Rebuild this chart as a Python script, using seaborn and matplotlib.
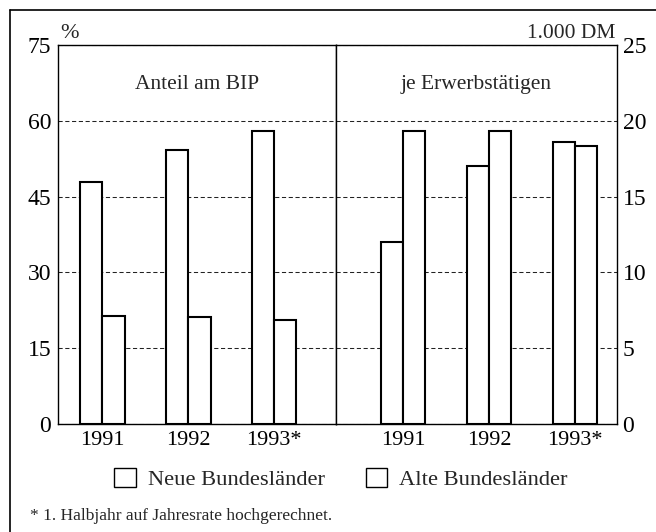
import matplotlib
matplotlib.use("Agg")
import matplotlib.pyplot as plt
import seaborn as sns
import pandas as pd
from matplotlib.patches import Patch
from matplotlib.lines import Line2D

# ---- data ----
years = ["1991", "1992", "1993*"]
regions = ["Neue Bundesländer", "Alte Bundesländer"]
bip_neue = [47.9, 54.3, 57.9]      # Anteil am BIP, %
bip_alte = [21.4, 21.2, 20.6]
erw_neue = [12.0, 17.0, 18.6]      # je Erwerbstätigen, 1.000 DM
erw_alte = [19.35, 19.3, 18.35]
left_ticks = [0, 15, 30, 45, 60, 75]
right_ticks = [0, 5, 10, 15, 20, 25]

df_left = pd.DataFrame({
    "Jahr": years * 2,
    "Region": [regions[0]] * 3 + [regions[1]] * 3,
    "Wert": bip_neue + bip_alte,
})
df_right = pd.DataFrame({
    "Jahr": years * 2,
    "Region": [regions[0]] * 3 + [regions[1]] * 3,
    "Wert": erw_neue + erw_alte,
})

sns.set_theme(style="white")
plt.rcParams["font.family"] = ["Liberation Serif", "DejaVu Serif"]
FS = 16

W, H = 656, 532
fig = plt.figure(figsize=(W / 100, H / 100), dpi=100)
bottom = 1 - 424 / H
height = 379 / H
axL = fig.add_axes([58 / W, bottom, (336 - 58) / W, height])
axR = fig.add_axes([336 / W, bottom, (617 - 336) / W, height])

for ax, df, ticks, title in [
    (axL, df_left, left_ticks, "Anteil am BIP"),
    (axR, df_right, right_ticks, "je Erwerbstätigen"),
]:
    sns.barplot(data=df, x="Jahr", y="Wert", hue="Region", order=years,
                hue_order=regions, palette=["white", "white"], width=0.52,
                edgecolor="black", linewidth=1.5, saturation=1, ax=ax,
                legend=False, errorbar=None)
    ax.set_ylim(ticks[0], ticks[-1])
    ax.set_yticks(ticks)
    ax.set_xlabel("")
    ax.set_ylabel("")
    ax.grid(axis="y", linestyle=(0, (4, 2.5)), color="#222222", linewidth=0.75)
    ax.grid(axis="x", visible=False)
    ax.set_axisbelow(True)
    for s in ax.spines.values():
        s.set_visible(True)
        s.set_color("black")
        s.set_linewidth(1.0)
    ax.tick_params(axis="both", length=0, labelsize=FS, colors="black")
    ax.tick_params(axis="y", labelsize=17)
    ax.tick_params(axis="x", pad=5)
    ax.text(0.5, 0.897, title, transform=ax.transAxes, ha="center",
            va="center", fontsize=15.5)

axL.set_xlim(-0.517, 2.72)
axR.set_xlim(-0.78, 2.49)
axL.tick_params(axis="y", pad=5)
axR.yaxis.tick_right()
axR.tick_params(axis="y", pad=4, length=0)

# unit labels
fig.text(60 / W, 1 - 38 / H, "%", ha="left", va="baseline", fontsize=16)
fig.text(615 / W, 1 - 38 / H, "1.000 DM", ha="right", va="baseline", fontsize=15.5)

# legend
handles = [Patch(facecolor="white", edgecolor="black", linewidth=1.0) for _ in regions]
fig.legend(handles, regions, loc="center", bbox_to_anchor=(341 / W, 1 - 479 / H),
           ncol=2, frameon=False, handlelength=0.95, handleheight=0.95,
           handletextpad=0.55, columnspacing=1.8, fontsize=16.2)

# footnote
fig.text(30 / W, 1 - 516 / H, "* 1. Halbjahr auf Jahresrate hochgerechnet.",
         ha="left", va="center", fontsize=12.5)

# outer frame (left and top edges visible)
fig.add_artist(Line2D([10 / W, 10 / W], [0, 1 - 10 / H], transform=fig.transFigure,
                      color="black", linewidth=1.2))
fig.add_artist(Line2D([10 / W, 1], [1 - 10 / H, 1 - 10 / H], transform=fig.transFigure,
                      color="black", linewidth=1.2))

fig.savefig("out.png", dpi=100)
